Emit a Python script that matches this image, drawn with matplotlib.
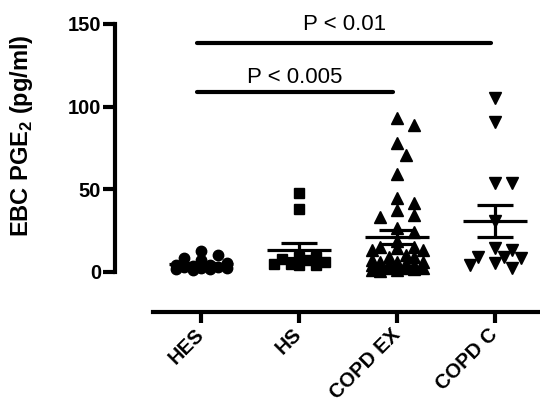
import numpy as np
import matplotlib
matplotlib.use('Agg')
import matplotlib.pyplot as plt

plt.rcParams['font.family'] = ['Liberation Sans', 'DejaVu Sans']
plt.rcParams['mathtext.fontset'] = 'custom'
plt.rcParams['mathtext.rm'] = 'Liberation Sans'
plt.rcParams['mathtext.bf'] = 'Liberation Sans:bold'

categories = ['HES', 'HS', 'COPD EX', 'COPD C']
hes = [5.5, 3.5, 2.5, 2.0, 10.0, 12.5, 7.0, 4.0, 3.0, 2.5, 8.5, 3.0, 2.0, 1.0, 4.0]
hs = [48.0, 38.0, 9.0, 9.0, 8.0, 7.0, 6.0, 5.0, 5.0, 4.0, 4.0]
copd_ex = [93, 89, 78, 71, 59, 45, 42, 37.5, 34.5, 33, 26.6, 24, 19, 13, 14.5, 15,
           15, 13, 9, 10, 9, 5.5, 6, 6, 5.5, 6, 4, 3, 2.4, 4, 2.5, 2.5, 0.5, 1, 3,
           1.5, 2, 7]
copd_c = [105, 91, 54, 54, 31, 13, 5.5, 9, 14.5, 8.5, 4, 9, 2.4]
groups = [hes, hs, copd_ex, copd_c]
markers = ['o', 's', '^', 'v']
msizes = [7.5, 7.5, 8.0, 8.0]
yticks = [0, 50, 100, 150]
sig_pairs = [(0, 3), (0, 2)]
sig_levels = [138.5, 108.9]
sig_texts = ['P < 0.01', 'P < 0.005']

W, H = 540, 404
fig = plt.figure(figsize=(W / 100, H / 100), dpi=100)
ax = fig.add_axes([115 / W, 92 / H, 425 / W, 312 / H])
ymin, ymax = -24.2, 164.5
xmin, xmax = -0.878, 3.459
ax.set_xlim(xmin, xmax)
ax.set_ylim(ymin, ymax)

# pixel scales for swarm layout
xs = 425 / (xmax - xmin)
ys = 312 / (ymax - ymin)


def swarm(vals, step=8.5, nmax=3, rx=15.0, ry=12.0):
    vals = np.asarray(vals, float)
    order = np.argsort(-vals)
    placed = []
    offs = np.zeros(len(vals))
    cands = [0.0]
    for j in range(1, nmax + 1):
        cands += [j * step, -j * step]
    for i in order:
        y = vals[i] * ys
        best, bestd = None, -1
        for c in cands:
            if placed:
                dmin = min(((c - px) / rx) ** 2 + ((y - py) / ry) ** 2 for px, py in placed)
            else:
                dmin = 99
            if dmin >= 1:
                best = c
                break
            if dmin > bestd + 1e-9:
                best, bestd = c, dmin
        placed.append((best, y))
        offs[i] = best / xs
    return offs


for i, vals in enumerate(groups):
    offs = swarm(vals)
    ax.plot(i + offs, vals, linestyle='none', marker=markers[i], ms=msizes[i],
            color='black', zorder=2)
    v = np.asarray(vals, float)
    m = v.mean()
    sem = v.std(ddof=1) / np.sqrt(len(v))
    ax.hlines(m, i - 0.33, i + 0.33, color='black', lw=2.3, zorder=3)
    ax.hlines([m - sem, m + sem], i - 0.18, i + 0.18, color='black', lw=2.3, zorder=3)
    ax.vlines(i, m - sem, m + sem, color='black', lw=2.3, zorder=3)

text_offsets = [8.0, 5.4]
for (a, b), lev, t, off in zip(sig_pairs, sig_levels, sig_texts, text_offsets):
    ax.plot([a - 0.04, b - 0.04], [lev, lev], color='black', lw=3, solid_capstyle='round')
    ax.text((a + b) / 2 - 0.04, lev + off, t, ha='center', va='baseline', fontsize=16)

for s in ['top', 'right']:
    ax.spines[s].set_visible(False)
for s in ['left', 'bottom']:
    ax.spines[s].set_linewidth(3)
ax.spines['left'].set_bounds(0, 150)
ax.spines['bottom'].set_bounds(-0.49, xmax)

ax.set_yticks(yticks)
ax.set_yticklabels([str(t) for t in yticks], fontweight='bold', fontsize=14.5)
ax.set_xticks(range(len(categories)))
ax.set_xticklabels(categories, fontweight='bold', fontsize=14.5, rotation=45,
                   ha='right', va='center', rotation_mode='anchor')
ax.tick_params(axis='y', length=9, width=3, pad=1)
ax.tick_params(axis='x', length=8, width=3, pad=6)

ax.set_ylabel(r'EBC PGE$_{\mathbf{2}}$ (pg/ml)', fontweight='bold', fontsize=17)
ax.yaxis.set_label_coords(-0.188, 0.564)

fig.savefig('out.png', dpi=100)
